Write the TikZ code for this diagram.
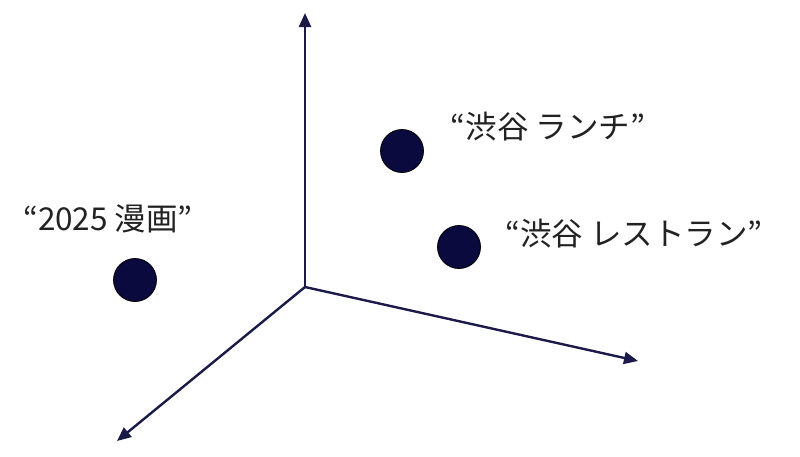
\documentclass[tikz,border=0pt]{standalone}
\usepackage{fontspec}
\newfontfamily\cjk{Noto Sans CJK JP}
\usetikzlibrary{arrows.meta}
\definecolor{axisc}{HTML}{1A1A48}
\definecolor{dotc}{HTML}{0A0A3E}
\definecolor{txtc}{HTML}{222222}
\tikzset{
  axis/.style={draw=axisc, line width=2.4pt, -{Triangle[length=14pt,width=12pt]}},
  pt/.style={circle, fill=dotc, draw=black, line width=0.8pt, minimum size=43pt, inner sep=0pt},
  lbl/.style={text=txtc, font=\cjk\fontsize{31.5}{34}\selectfont, inner sep=0pt}
}
\begin{document}
\begin{tikzpicture}[x=1pt,y=-1pt]
\useasboundingbox (0,0) rectangle (800,456);
\coordinate (o) at (305,287);
\coordinate (up) at (305,13);
\coordinate (rt) at (638,361);
\coordinate (ll) at (117,441);
\draw[axis] (o) -- (up);
\draw[axis] (o) -- (rt);
\draw[axis] (o) -- (ll);
\node[pt] (d1) at (402,151) {};
\node[pt] (d2) at (459,247) {};
\node[pt] (d3) at (135,280) {};
\node[lbl] (t1) at (548,127) {“渋谷 ランチ”};
\node[lbl] (t2) at (634,234) {“渋谷 レストラン”};
\node[lbl] (t3) at (108,219) {“2025 漫画”};
\end{tikzpicture}
\end{document}
